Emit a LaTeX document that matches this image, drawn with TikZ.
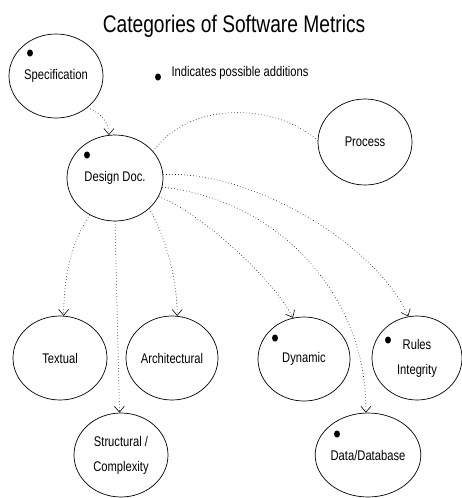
\documentclass[tikz,border=0pt]{standalone}
\usepackage{fontspec}
\setmainfont{Liberation Sans}[FakeStretch=0.8]
\usetikzlibrary{shapes.geometric,arrows.meta}
\tikzset{
  metric/.style={
    ellipse,
    draw, line width=0.7pt,
    minimum width=94pt,
    minimum height=84pt,
    inner sep=0pt,
    align=center,
    font=\fontsize{14}{25}\selectfont},
  link/.style={draw, line width=0.6pt, dash pattern=on 0.6pt off 2.4pt},
  line/.style={link, -{Straight Barb[length=6pt,width=10pt]}},
  addition/.style={fill=black},
}

\begin{document}
\begin{tikzpicture}[x=1pt,y=-1pt]
  \useasboundingbox (0,0) rectangle (461,498);
  \node[font=\fontsize{24}{28}\selectfont, anchor=base] (title) at (234,32)
    {Categories of Software Metrics};

  % categories
  \node[metric] (spec) at (56,76) {Specification};
  \node[metric, minimum width=96pt, minimum height=86pt] (design) at (115,178) {Design Doc.};
  \node[metric, minimum height=86pt] (process) at (365,142) {Process};
  \node[metric] (textual) at (60,358) {Textual};
  \node[metric, minimum width=92pt] (arch) at (172,358) {Architectural};
  \node[metric, minimum width=92pt] (dynamic) at (304,359) {Dynamic};
  \node[metric, minimum width=90pt] (rules) at (417,358) {Rules\\Integrity};
  \node[metric] (struct) at (121,455) {Structural /\\Complexity};
  \node[metric, minimum width=93pt] (data) at (368,455) {Data/Database};

  % possible additions
  \fill[addition] (30,53) ellipse (3 and 3.5);
  \fill[addition] (87,155) ellipse (3 and 3.5);
  \fill[addition] (275,338) ellipse (3 and 3.5);
  \fill[addition] (388,340) ellipse (3 and 3.5);
  \fill[addition] (337,434) ellipse (3 and 3.5);
  \fill[addition] (158,77) ellipse (3 and 3.5);
  \node[font=\fontsize{14}{17}\selectfont, anchor=base west] (legend) at (168,76)
    {Indicates possible additions};

  % connectors
  \path[line] (spec.-45) .. controls +(12,5) and +(0,-14) .. (design.98);
  \path[link] (design.35) .. controls (190,100) and (275,103) .. (process.178);
  \path[line] (design.-124) .. controls +(-18,25) and +(0,-40) .. (textual.85);
  \path[line] (design.-90) -- (struct.92);
  \path[line] (design.-42) .. controls +(15,25) and +(0,-40) .. (arch.83);
  \path[line] (design.-23) .. controls +(40,15) and +(-20,-40) .. (dynamic.105);
  \path[line] (design.-11) .. controls +(120,13) and +(2,-113) .. (data.93);
  \path[line] (design.4) .. controls +(90,-5) and +(-30,-70) .. (rules.102);
\end{tikzpicture}
\end{document}
